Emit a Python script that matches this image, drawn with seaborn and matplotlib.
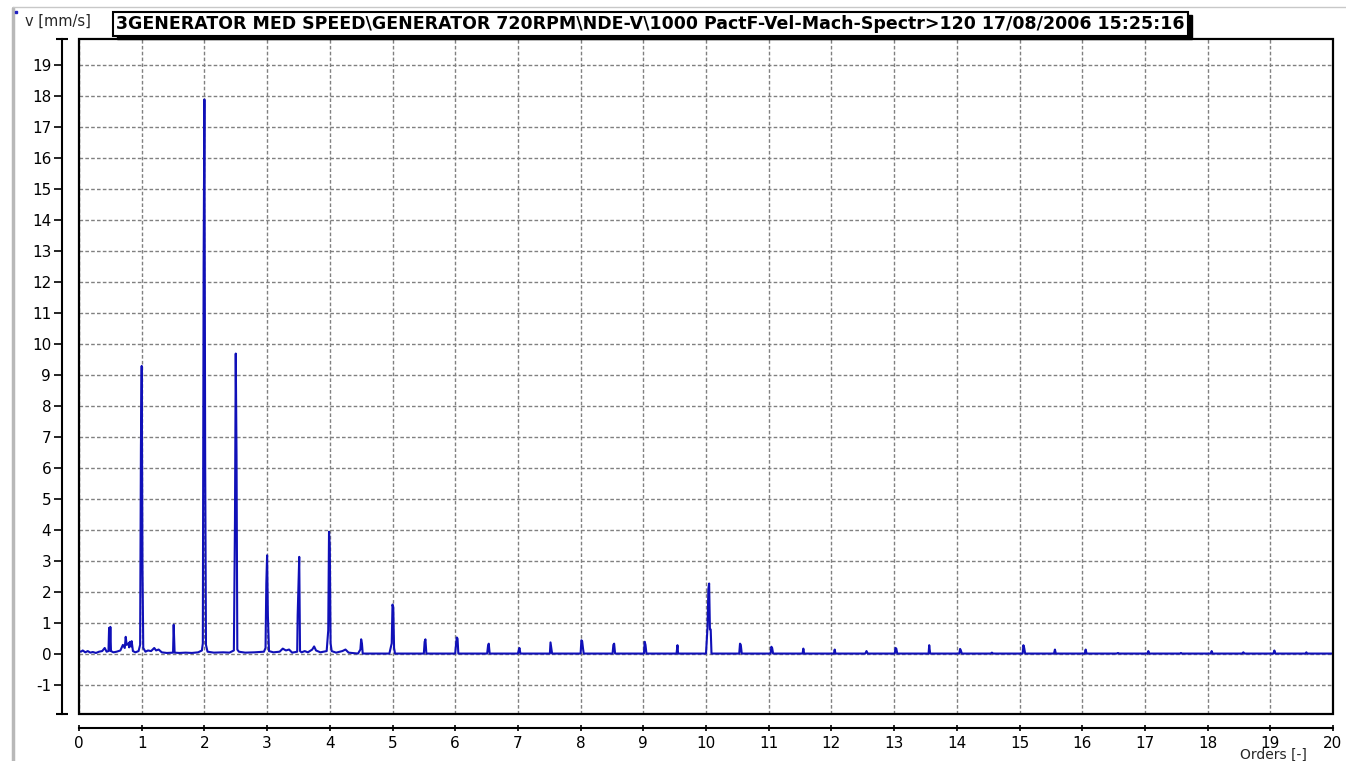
import pandas as pd
import matplotlib.pyplot as plt
from matplotlib.patches import Rectangle
from matplotlib.lines import Line2D
import seaborn as sns

# spectrum: order [-] and velocity [mm/s]
spectrum_order = [
    0.00, 0.03, 0.06, 0.10, 0.14, 0.18, 0.22, 0.27, 0.32, 0.37, 0.41, 0.44,
    0.47, 0.48, 0.49, 0.50, 0.51, 0.55, 0.60, 0.66, 0.70, 0.73, 0.745, 0.76,
    0.79, 0.80, 0.81, 0.83, 0.84, 0.86, 0.90, 0.95, 0.975, 0.9875, 1.00, 1.0125,
    1.025, 1.06, 1.10, 1.15, 1.20, 1.23, 1.27, 1.32, 1.40, 1.48, 1.50, 1.51,
    1.525, 1.60, 1.70, 1.80, 1.90, 1.96, 1.975, 1.9875, 2.00, 2.0125, 2.025, 2.05,
    2.15, 2.30, 2.40, 2.47, 2.4875, 2.50, 2.5125, 2.525, 2.55, 2.65, 2.80, 2.95,
    2.975, 2.9875, 3.00, 3.0125, 3.03, 3.10, 3.20, 3.25, 3.30, 3.35, 3.40, 3.48,
    3.4875, 3.50, 3.5125, 3.525, 3.55, 3.60, 3.65, 3.72, 3.75, 3.78, 3.85, 3.95,
    3.975, 3.9875, 4.00, 4.0125, 4.03, 4.10, 4.20, 4.25, 4.30, 4.45, 4.4875, 4.50,
    4.5125, 4.525, 4.95, 4.9875, 5.00, 5.0125, 5.025, 5.04, 5.50, 5.5125, 5.525, 5.54,
    6.00, 6.0125, 6.025, 6.0375, 6.05, 6.51, 6.5225, 6.535, 6.55, 7.00, 7.0125, 7.025,
    7.04, 7.51, 7.52, 7.5325, 7.545, 8.00, 8.0125, 8.025, 8.0375, 8.05, 8.51, 8.5225,
    8.535, 8.55, 9.01, 9.0225, 9.035, 9.05, 9.53, 9.545, 9.555, 10.00, 10.025, 10.0375,
    10.05, 10.0625, 10.075, 10.0875, 10.53, 10.5425, 10.555, 10.57, 11.03, 11.0425, 11.055, 11.07,
    11.54, 11.5525, 11.565, 12.04, 12.0525, 12.065, 12.54, 12.56, 12.58, 13.01, 13.0225, 13.035,
    13.05, 13.55, 13.56, 13.575, 14.04, 14.0525, 14.065, 14.08, 14.54, 14.56, 14.58, 15.05,
    15.0625, 15.075, 15.09, 15.55, 15.565, 15.58, 16.04, 16.055, 16.07, 16.55, 16.57, 16.59,
    17.04, 17.055, 17.07, 17.56, 17.575, 17.59, 18.05, 18.065, 18.08, 18.55, 18.57, 18.59,
    19.05, 19.065, 19.08, 19.56, 19.575, 19.59, 20.00,
]
spectrum_vel = [
    0.10, 0.08, 0.12, 0.06, 0.10, 0.05, 0.07, 0.04, 0.08, 0.10, 0.20, 0.08,
    0.10, 0.85, 0.12, 0.88, 0.10, 0.06, 0.08, 0.12, 0.30, 0.20, 0.56, 0.30,
    0.35, 0.22, 0.40, 0.25, 0.42, 0.10, 0.06, 0.10, 0.30, 6.70, 9.30, 2.75,
    0.20, 0.08, 0.12, 0.10, 0.20, 0.12, 0.15, 0.06, 0.04, 0.05, 0.05, 0.95,
    0.05, 0.04, 0.05, 0.04, 0.06, 0.12, 0.35, 12.5, 17.9, 6.20, 0.30, 0.08,
    0.05, 0.06, 0.05, 0.12, 4.30, 9.70, 6.40, 0.15, 0.08, 0.05, 0.06, 0.08,
    0.20, 2.28, 3.19, 1.26, 0.10, 0.06, 0.08, 0.18, 0.12, 0.15, 0.05, 0.08,
    1.26, 2.16, 3.14, 0.10, 0.06, 0.10, 0.06, 0.15, 0.25, 0.12, 0.06, 0.10,
    0.77, 3.95, 3.48, 0.35, 0.10, 0.05, 0.10, 0.15, 0.05, 0.02, 0.15, 0.48,
    0.35, 0.02, 0.02, 0.35, 1.60, 1.50, 0.20, 0.02, 0.02, 0.40, 0.48, 0.02,
    0.02, 0.30, 0.54, 0.50, 0.02, 0.02, 0.25, 0.34, 0.02, 0.02, 0.12, 0.20,
    0.02, 0.02, 0.38, 0.20, 0.02, 0.02, 0.45, 0.42, 0.20, 0.02, 0.02, 0.30,
    0.34, 0.02, 0.02, 0.40, 0.30, 0.02, 0.02, 0.29, 0.02, 0.02, 0.90, 2.10,
    2.28, 0.80, 0.80, 0.02, 0.02, 0.34, 0.30, 0.02, 0.02, 0.24, 0.20, 0.02,
    0.02, 0.18, 0.02, 0.02, 0.15, 0.02, 0.02, 0.10, 0.02, 0.02, 0.20, 0.18,
    0.02, 0.02, 0.29, 0.02, 0.02, 0.17, 0.12, 0.02, 0.02, 0.05, 0.02, 0.02,
    0.29, 0.20, 0.02, 0.02, 0.15, 0.02, 0.02, 0.15, 0.02, 0.02, 0.04, 0.02,
    0.02, 0.10, 0.02, 0.02, 0.04, 0.02, 0.02, 0.10, 0.02, 0.02, 0.06, 0.02,
    0.02, 0.12, 0.02, 0.02, 0.06, 0.02, 0.02,
]

y_ticks = list(range(-1, 20))
x_ticks = list(range(0, 21))
y_limits = (-1.93, 19.85)

title = r"3GENERATOR MED SPEED\GENERATOR 720RPM\NDE-V\1000 PactF-Vel-Mach-Spectr>120 17/08/2006 15:25:16"

df = pd.DataFrame({"order": spectrum_order, "v": spectrum_vel})

sns.set_theme(style="white")
plt.rcParams["font.family"] = ["DejaVu Sans"]

fig = plt.figure(figsize=(13.46, 7.61), dpi=100)
ax = fig.add_axes([79 / 1346, 1 - 714 / 761, (1333 - 79) / 1346, (714 - 39) / 761])

sns.lineplot(data=df, x="order", y="v", sort=False, estimator=None,
             color="#1010b8", lw=1.5, ax=ax, zorder=4)

ax.set_xlim(0, 20)
ax.set_ylim(*y_limits)
ax.set_xticks(x_ticks)
ax.set_yticks(y_ticks)
ax.set_xticklabels([str(t) for t in x_ticks], fontsize=10)
ax.set_yticklabels([str(t) for t in y_ticks], fontsize=10)
ax.set_xlabel("")
ax.set_ylabel("")

ax.grid(True, color="#808080", lw=1, ls=(0, (2.6, 1.6)))

for side in ["top", "right"]:
    ax.spines[side].set_visible(False)
ax.spines["left"].set_position(("outward", 12))
ax.spines["bottom"].set_position(("outward", 10))
for side in ["left", "bottom"]:
    ax.spines[side].set_linewidth(1.5)
    ax.spines[side].set_color("black")

ax.tick_params(axis="y", which="major", direction="out", length=6, width=1.2,
               pad=2, left=True, colors="black")
ax.tick_params(axis="x", which="major", direction="inout", length=5, width=1.2,
               pad=3, bottom=True, colors="black")
ax.set_yticks(list(y_limits), minor=True)
ax.tick_params(axis="y", which="minor", direction="inout", length=8, width=1.5,
               left=True, color="black")

ax.add_patch(Rectangle((0, 0), 1, 1, transform=ax.transAxes, fill=False,
                       ec="black", lw=1.6, clip_on=False, zorder=5))

# title box, with a drop shadow drawn behind it
t = fig.text(116 / 1346, 1 - 24 / 761, title, fontsize=12.5, fontweight="bold",
             va="center", ha="left", color="black", zorder=3,
             bbox=dict(boxstyle="square,pad=0.2", fc="white", ec="black", lw=1.5))
fig.canvas.draw()
bb = t.get_bbox_patch().get_window_extent()
fig.add_artist(Rectangle((bb.x0 + 4, bb.y0 - 3), bb.width, bb.height,
                         transform=None, fc="black", ec="black", zorder=2))

fig.text(25 / 1346, 1 - 21 / 761, "v [mm/s]", fontsize=10.5, va="center", ha="left")
fig.text(1273 / 1346, 1 - 755 / 761, "Orders [-]", fontsize=10, va="center", ha="center")

# window border
fig.add_artist(Line2D([13 / 1346, 13 / 1346], [0, 1 - 8 / 761], color="#b8b8b8", lw=2.5))
fig.add_artist(Line2D([13 / 1346, 1], [1 - 7 / 761, 1 - 7 / 761], color="#c8c8c8", lw=1))
fig.add_artist(Line2D([16 / 1346], [1 - 12 / 761], marker="s", ms=2, color="#2020c0"))

fig.savefig("out.png", dpi=100)
